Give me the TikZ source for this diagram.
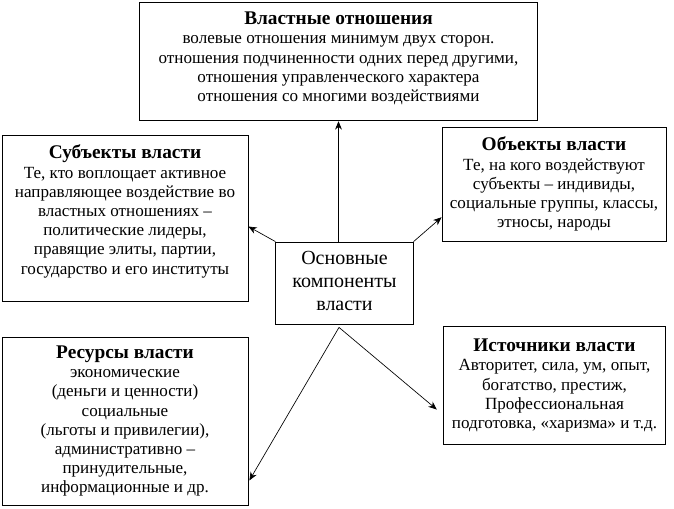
\documentclass[tikz,border=0pt]{standalone}
\usepackage{fontspec}
\setmainfont{Liberation Serif}
\usetikzlibrary{arrows.meta,positioning,calc}
\newcommand{\boxtitle}[1]{{\fontsize{14.5}{14.5}\selectfont\bfseries #1}}
\tikzset{
  frame/.style={draw, line width=0.6pt, inner sep=0pt},
  boxtext/.style={align=center, font=\fontsize{12.8}{14.4}\selectfont, inner sep=0pt},
  coretext/.style={align=center, font=\fontsize{15}{17.3}\selectfont, inner sep=0pt},
  link/.style={-{Stealth[length=2.2mm, width=1.8mm]}, line width=0.5pt}
}
\begin{document}
\begin{tikzpicture}[x=0.75pt, y=-0.75pt]
  \useasboundingbox (0,0) rectangle (674,508);
  % frames
  \node[frame, minimum width=299pt, minimum height=89pt] (rel) at (338.5,61.5) {};
  \node[frame, minimum width=184.5pt, minimum height=125pt] (subj) at (125,218.5) {};
  \node[frame, minimum width=168pt, minimum height=86pt] (obj) at (554,184.5) {};
  \node[frame, minimum width=103pt, minimum height=61.5pt] (core) at (344.5,283) {};
  \node[frame, minimum width=184.5pt, minimum height=126pt] (res) at (125,421) {};
  \node[frame, minimum width=167pt, minimum height=89pt] (src) at (554.5,385.5) {};
  % texts
  \node[boxtext, anchor=north] (reltxt) at ($(rel.north)+(0,10)$)
    {\boxtitle{Властные отношения}\\
     волевые отношения минимум двух сторон.\\
     отношения подчиненности одних перед другими,\\
     отношения управленческого характера\\
     отношения со многими воздействиями};
  \node[boxtext, anchor=north] (subjtxt) at ($(subj.north)+(0,10)$)
    {\boxtitle{Субъекты власти}\\
     Те, кто воплощает активное\\
     направляющее воздействие во\\
     властных отношениях –\\
     политические лидеры,\\
     правящие элиты, партии,\\
     государство и его институты};
  \node[boxtext, anchor=north] (objtxt) at ($(obj.north)+(0,10)$)
    {\boxtitle{Объекты власти}\\
     Те, на кого воздействуют\\
     субъекты – индивиды,\\
     социальные группы, классы,\\
     этносы, народы};
  \node[coretext] (coretxt) at ($(core.center)+(0,-2)$)
    {Основные\\компоненты\\власти};
  \node[boxtext, anchor=north] (restxt) at ($(res.north)+(0,9)$)
    {\boxtitle{Ресурсы власти}\\
     экономические\\
     (деньги и ценности)\\
     социальные\\
     (льготы и привилегии),\\
     административно –\\
     принудительные,\\
     информационные и др.};
  \node[boxtext, anchor=north] (srctxt) at ($(src.north)+(0,13)$)
    {\boxtitle{Источники власти}\\
     Авторитет, сила, ум, опыт,\\
     богатство, престиж,\\
     Профессиональная\\
     подготовка, «харизма» и т.д.};
  % connectors
  \coordinate (apex) at ($(core.south)+(-5.5,3)$);
  \draw[link] (rel.south |- core.north) -- (rel.south);
  \draw[link] (core.north west) -- ($(subj.east)+(0,8)$);
  \draw[link] (core.north east) -- ($(obj.south west)+(0,-25)$);
  \draw[link] (apex) -- ($(res.south east)+(1,-25)$);
  \draw[link] (apex) -- ($(src.west)+(-6,24)$);
\end{tikzpicture}
\end{document}
